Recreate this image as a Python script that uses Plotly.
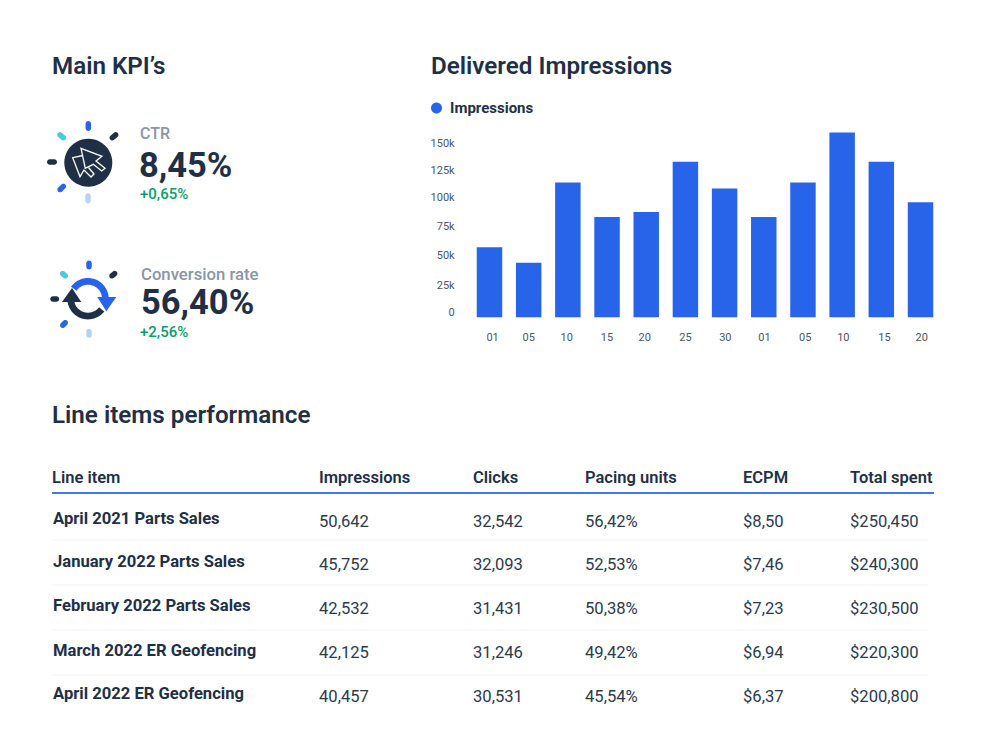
import math
import plotly.graph_objects as go

# ---- chart data ----
day_labels = ["01", "05", "10", "15", "20", "25", "30", "01", "05", "10", "15", "20"]
day_tick_pos = [0.08, 1, 1.97, 3, 3.96, 5, 6.02, 7.02, 8.06, 9.03, 10.08, 11.03]
impressions = [60500, 47000, 116000, 86300, 90800, 134000, 111000, 86300, 116000, 159000, 134000, 99000]
y_tick_labels = ["0", "25k", "50k", "75k", "100k", "125k", "150k"]
y_tick_vals = [4700, 28000, 53700, 78700, 103600, 126800, 150000]

# ---- table data ----
table_headers = ["Line item", "Impressions", "Clicks", "Pacing units", "ECPM", "Total spent"]
line_items = ["April 2021 Parts Sales", "January 2022 Parts Sales", "February 2022 Parts Sales",
              "March 2022 ER Geofencing", "April 2022 ER Geofencing"]
imp_col = ["50,642", "45,752", "42,532", "42,125", "40,457"]
clicks_col = ["32,542", "32,093", "31,431", "31,246", "30,531"]
pacing_col = ["56,42%", "52,53%", "50,38%", "49,42%", "45,54%"]
ecpm_col = ["$8,50", "$7,46", "$7,23", "$6,94", "$6,37"]
spent_col = ["$250,450", "$240,300", "$230,500", "$220,300", "$200,800"]

W, H = 992, 756
DARK = "#1f2f45"
BLUE = "#2764ea"
FONT = "Roboto"

def px(x): return x / W
def py(y): return 1 - y / H

shapes, annotations = [], []

def text(x, y, s, size, color=DARK, weight=400, anchor="left"):
    annotations.append(dict(xref="paper", yref="paper", x=px(x - 1.2), y=py(y), text=s, showarrow=False,
                            xanchor=anchor, yanchor="middle", borderpad=0, align="left",
                            font=dict(family=FONT, size=size, color=color, weight=weight)))

def poly(points, fill=None, line=None, width=0, close=True):
    d = "M" + " L".join(f"{px(a):.6f},{py(b):.6f}" for a, b in points) + (" Z" if close else "")
    shapes.append(dict(type="path", xref="paper", yref="paper", path=d,
                       fillcolor=fill if fill else "rgba(0,0,0,0)",
                       line=dict(color=line if line else "rgba(0,0,0,0)", width=width)))

def circle_pts(cx, cy, r, n=48):
    return [(cx + r * math.cos(2 * math.pi * i / n), cy + r * math.sin(2 * math.pi * i / n)) for i in range(n)]

def capsule(cx, cy, length, thick, angle_deg, color):
    a = math.radians(angle_deg)
    ux, uy = math.cos(a), math.sin(a)
    half = max(length / 2 - thick / 2, 0)
    pts = []
    for sgn, start in ((1, -90), (-1, 90)):
        for i in range(11):
            t = math.radians(start + 18 * i) + a
            pts.append((cx + sgn * half * ux + thick / 2 * math.cos(t),
                        cy + sgn * half * uy + thick / 2 * math.sin(t)))
    poly(pts, fill=color)

def arc_band(cx, cy, r0, r1, a0, a1, color, n=40):
    outer = [(cx + r1 * math.cos(math.radians(a0 + (a1 - a0) * i / n)),
              cy - r1 * math.sin(math.radians(a0 + (a1 - a0) * i / n))) for i in range(n + 1)]
    inner = [(cx + r0 * math.cos(math.radians(a1 - (a1 - a0) * i / n)),
              cy - r0 * math.sin(math.radians(a1 - (a1 - a0) * i / n))) for i in range(n + 1)]
    poly(outer + inner, fill=color)

TEAL, LIGHT = "#4cc9dc", "#b9d0f7"

def rays(top, tr, left, tl, bl, bottom, L=10, T=5.5):
    capsule(*top, L, T, 90, BLUE)
    capsule(*tr, L, T, -40, DARK)
    capsule(*left, L, T, 0, DARK)
    capsule(*tl, L, T, 40, TEAL)
    capsule(*bl, L, T, -45, BLUE)
    capsule(*bottom, L, T, 90, LIGHT)

# ---- CTR icon ----
rays((88.3, 126), (114, 136.3), (52, 162), (61.7, 136.3), (61.7, 188), (88, 198.3))
poly(circle_pts(88.3, 162.7, 24), fill=DARK)
poly([(81, 148.3), (102, 156.3), (96, 161), (105, 168.3), (101.7, 171), (93.3, 164.3), (85.3, 168.3)],
     line="#ffffff", width=1.3)
poly([(83, 155.5), (72.7, 157.7), (80, 176.7), (84, 170), (91, 177), (94, 174), (88.5, 167.5)],
     line="#ffffff", width=1.3, close=False)

# ---- Conversion icon ----
rays((89, 265), (113.3, 274.7), (54.7, 299), (64, 274.7), (64, 324), (89, 333.3), L=9, T=5.5)
arc_band(88, 298.7, 14, 20.7, 145, 5, BLUE)
poly([(97.3, 297), (116.3, 297), (106.3, 311.3)], fill=BLUE)
arc_band(88, 298.7, 14, 20.7, -38, -178, DARK)
poly([(62, 302), (81.3, 302), (72, 288)], fill=DARK)

# ---- headings and KPIs ----
text(52, 66, "Main KPI’s", 24.2, weight=600)
text(431, 66, "Delivered Impressions", 24.2, weight=600)
text(52, 415, "Line items performance", 24.2, weight=600)

text(140, 133, "CTR", 16, "#8b95a3", 500)
text(139, 165, "8,45%", 34.5, weight=700)
text(140, 194, "+0,65%", 15, "#0b9c6b", 500)
text(141, 274, "Conversion rate", 16.7, "#8b95a3", 500)
text(141, 302, "56,40%", 34.5, weight=700)
text(140, 332, "+2,56%", 15, "#0b9c6b", 500)

# ---- chart legend ----
poly(circle_pts(436.5, 108, 5.5), fill=BLUE)
text(450, 108, "Impressions", 15, weight=700)

# ---- table ----
col_x = [52.5, 319.5, 473.5, 585.5, 743, 850]
for x, h in zip(col_x, table_headers):
    text(x, 477, h, 16.5, weight=600)
shapes.append(dict(type="line", xref="paper", yref="paper", x0=px(52), x1=px(934), y0=py(493), y1=py(493),
                   line=dict(color="#3f78ee", width=2)))
name_y = [518, 561, 605, 650, 693]
value_y = [521, 564, 608, 652, 696]
for i, name in enumerate(line_items):
    text(53, name_y[i], name, 16.6, weight=700)
    for x, col in zip(col_x[1:], (imp_col, clicks_col, pacing_col, ecpm_col, spent_col)):
        text(x, value_y[i], col[i], 16.6, "#2b3a4e")
for y in (540, 585, 630, 675):
    shapes.append(dict(type="line", xref="paper", yref="paper", x0=px(52), x1=px(928), y0=py(y), y1=py(y),
                       line=dict(color="#f1f3f6", width=1)))

fig = go.Figure(go.Bar(x=list(range(len(impressions))), y=impressions, marker=dict(color=BLUE, line_width=0),
                       width=0.65, hoverinfo="skip"))
fig.update_layout(
    width=W, height=H, margin=dict(l=0, r=0, t=0, b=0), paper_bgcolor="#ffffff", plot_bgcolor="#ffffff",
    showlegend=False, shapes=shapes, annotations=annotations, font=dict(family=FONT),
    xaxis=dict(domain=[px(469.9), px(940.1)], range=[-0.5, 11.5], tickmode="array",
               tickvals=day_tick_pos, ticktext=day_labels, showgrid=False, zeroline=False,
               ticks="outside", ticklen=9, tickcolor="rgba(0,0,0,0)", tickfont=dict(size=11, color="#4a5668")),
    yaxis=dict(domain=[py(317.5), py(131.4)], range=[0, 160000], tickmode="array", tickvals=y_tick_vals,
               ticktext=y_tick_labels, showgrid=False, zeroline=False,
               ticks="outside", ticklen=12, tickcolor="rgba(0,0,0,0)", tickfont=dict(size=11, color="#4a5668")),
)
fig.write_html("out.html", config={"displayModeBar": False},
               post_script="document.body.style.margin='0';document.body.style.overflow='hidden';")
